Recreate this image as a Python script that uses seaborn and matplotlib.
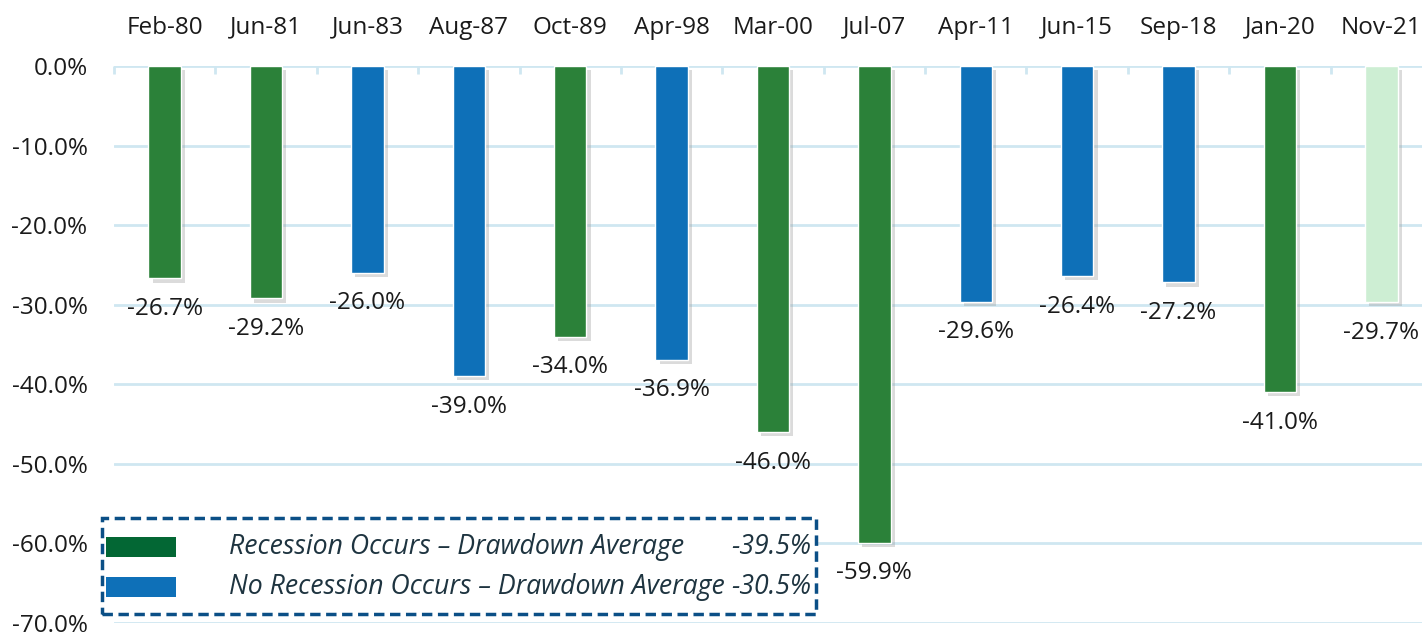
import matplotlib
matplotlib.use("Agg")
import matplotlib.pyplot as plt
import matplotlib.patheffects as pe
from matplotlib.patches import Rectangle
import numpy as np
import pandas as pd
import seaborn as sns

PEAK_DATES = ['Feb-80', 'Jun-81', 'Jun-83', 'Aug-87', 'Oct-89', 'Apr-98', 'Mar-00',
              'Jul-07', 'Apr-11', 'Jun-15', 'Sep-18', 'Jan-20', 'Nov-21']
DRAWDOWNS = [-26.7, -29.2, -26.0, -39.0, -34.0, -36.9, -46.0,
             -59.9, -29.6, -26.4, -27.2, -41.0, -29.7]
STATUS = ['Recession', 'Recession', 'No recession', 'No recession', 'Recession',
          'No recession', 'Recession', 'Recession', 'No recession', 'No recession',
          'No recession', 'Recession', 'Current']
Y_TICKS = [0, -10, -20, -30, -40, -50, -60, -70]
LEGEND_LABELS = ['Recession Occurs \u2013 Drawdown Average',
                 'No Recession Occurs \u2013 Drawdown Average']
LEGEND_VALUES = ['-39.5%', '-30.5%']

PALETTE = {'Recession': '#2b8139', 'No recession': '#0e70b8', 'Current': '#cdeed3'}
GRID_COLOR = '#cfe7f1'
TEXT_COLOR = '#1a1a1a'
FONT_SIZE = 17.5

sns.set_style('white')
plt.rcParams['font.family'] = ['Open Sans', 'DejaVu Sans']

data = pd.DataFrame({'Date': PEAK_DATES, 'Drawdown': DRAWDOWNS, 'Status': STATUS})

fig = plt.figure(figsize=(14.22, 6.32), dpi=100)
ax = fig.add_axes([114 / 1422, 9 / 632, 1318 / 1422, 557 / 632])

sns.barplot(data=data, x='Date', y='Drawdown', hue='Status', palette=PALETTE, saturation=1,
            dodge=False, width=0.32, legend=False, ax=ax, zorder=3)

for bar in ax.patches:
    bar.set_path_effects([pe.SimplePatchShadow(offset=(3, -3), shadow_rgbFace='#9a9a9a', alpha=0.35),
                          pe.Normal()])

for i, val in enumerate(DRAWDOWNS):
    ax.annotate(f'{val:.1f}%', xy=(i, val), xytext=(0, -22), textcoords='offset points',
                ha='center', va='center', fontsize=FONT_SIZE, color=TEXT_COLOR)

ax.set_xlim(-0.5, len(PEAK_DATES) - 0.5)
ax.set_ylim(-70, 0)
ax.set_yticks(Y_TICKS)
ax.set_yticklabels([f'{t:.1f}%' for t in Y_TICKS])
ax.yaxis.grid(True, color=GRID_COLOR, linewidth=2, zorder=0)
ax.set_axisbelow(True)

ax.xaxis.tick_top()
ax.set_xticks(np.arange(len(PEAK_DATES)))
ax.set_xticklabels(PEAK_DATES)
ax.set_xticks(np.arange(len(PEAK_DATES) + 1) - 0.5, minor=True)
ax.tick_params(axis='x', which='major', length=0, pad=19, labelsize=FONT_SIZE, labelcolor=TEXT_COLOR)
ax.tick_params(axis='x', which='minor', length=6, width=2, direction='in', color=GRID_COLOR, top=True)
ax.tick_params(axis='y', length=0, pad=19, labelsize=FONT_SIZE, labelcolor=TEXT_COLOR)
ax.set_xlabel('')
ax.set_ylabel('')
for side in ['left', 'right', 'bottom', 'top']:
    ax.spines[side].set_visible(False)

# legend box drawn by hand so the averages line up on the right
box = Rectangle((102 / 1422, (632 - 614) / 632), 714 / 1422, 96 / 632, transform=fig.transFigure,
                facecolor='white', edgecolor='#0b4f86', linewidth=2.5, linestyle=(0, (3, 1.6)), zorder=10)
fig.patches.append(box)
swatches = ['#036734', '#0e70b8']
for row, (label, value, col) in enumerate(zip(LEGEND_LABELS, LEGEND_VALUES, swatches)):
    y_mid = (632 - (547 + row * 40)) / 632
    fig.patches.append(Rectangle((106 / 1422, y_mid - 10 / 632), 70 / 1422, 20 / 632,
                                 transform=fig.transFigure, facecolor=col, edgecolor='none', zorder=11))
    fig.text(229 / 1422, y_mid, label, ha='left', va='center', fontsize=19.2, style='italic',
             color='#1e3440', zorder=12)
    fig.text(811 / 1422, y_mid, value, ha='right', va='center', fontsize=19.2, style='italic',
             color='#1e3440', zorder=12)

fig.savefig('out.png', dpi=100)
